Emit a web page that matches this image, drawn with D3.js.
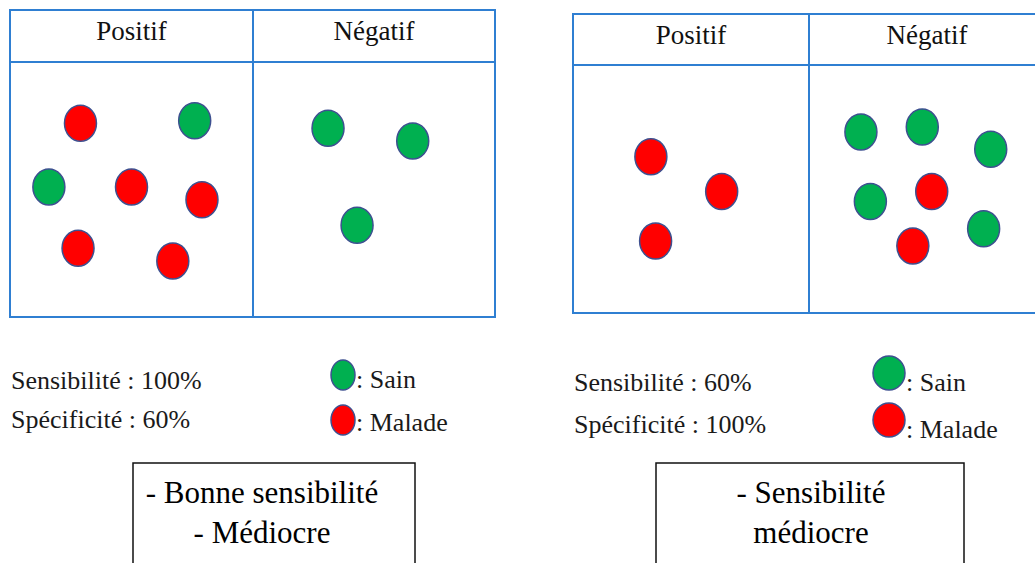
<!DOCTYPE html>
<html>

<head>
    <meta charset="UTF-8">
    <title>Sensibilité / Spécificité</title>
    <style>
        body {
            margin: 0;
            background-color: white;
        }
    </style>
</head>

<body>
    <svg></svg>

    <script src="https://d3js.org/d3.v7.min.js"></script>

    <script>

        let width = 1035, height = 563;
        let serif = "'Liberation Serif'";

        // column headers of each table
        let columns = ["Positif", "Négatif"];

        // dots of each cell: status + position inside the cell (0-100 units)
        let leftPositif = [
            ["Malade", 29, 24], ["Sain", 76, 23], ["Sain", 16, 49], ["Malade", 50, 49],
            ["Malade", 79, 54], ["Malade", 28, 73], ["Malade", 67, 78]
        ];
        let leftNegatif = [["Sain", 31, 26], ["Sain", 66, 31], ["Sain", 43, 64]];
        let rightPositif = [["Malade", 33, 37], ["Malade", 63, 51], ["Malade", 35, 71]];
        let rightNegatif = [
            ["Sain", 22, 27], ["Sain", 48, 25], ["Sain", 77, 34], ["Sain", 26, 55],
            ["Malade", 52, 51], ["Sain", 74, 66], ["Malade", 44, 73]
        ];

        // summary texts
        let leftStats = ["Sensibilité : 100%", "Spécificité : 60%"];
        let rightStats = ["Sensibilité : 60%", "Spécificité : 100%"];
        let legendLabels = ["Sain", "Malade"];
        let leftNote = ["- Bonne sensibilité", "- Médiocre"];
        let rightNote = ["- Sensibilité", "médiocre"];

        let color = d3.scaleOrdinal()
            .domain(legendLabels)
            .range(["#00b050", "#ff0000"]);

        let svg = d3.select("svg")
            .attr("width", width)
            .attr("height", height);

        let panels = [
            {
                x0: 10, xm: 253, x1: 495, y0: 10, yh: 62, y1: 317, headBase: 40,
                cells: [leftPositif, leftNegatif],
                stats: leftStats, statsX: 11, statsY: [389, 428],
                legX: 343, legY: [375, 420], legRx: 12, legRy: 15, legTextX: 356, legTextY: [388, 431],
                note: leftNote, box: [133, 415], noteX: 262
            },
            {
                x0: 573, xm: 809, x1: 1045, y0: 14, yh: 65, y1: 313, headBase: 44,
                cells: [rightPositif, rightNegatif],
                stats: rightStats, statsX: 574, statsY: [391, 433],
                legX: 889, legY: [373, 420], legRx: 16, legRy: 17, legTextX: 906, legTextY: [391, 438],
                note: rightNote, box: [656, 964], noteX: 811
            }
        ];

        panels.forEach(p => {
            let g = svg.append("g");

            // table frame
            let blue = "#2f7fd2";
            g.append("rect")
                .attr("x", p.x0).attr("y", p.y0)
                .attr("width", p.x1 - p.x0).attr("height", p.y1 - p.y0)
                .attr("fill", "none").attr("stroke", blue).attr("stroke-width", 2);
            g.append("line")
                .attr("x1", p.x0).attr("x2", p.x1).attr("y1", p.yh).attr("y2", p.yh)
                .attr("stroke", blue).attr("stroke-width", 2);
            g.append("line")
                .attr("x1", p.xm).attr("x2", p.xm).attr("y1", p.y0).attr("y2", p.y1)
                .attr("stroke", blue).attr("stroke-width", 2);

            let colX = [[p.x0, p.xm], [p.xm, p.x1]];

            columns.forEach((c, i) => {
                g.append("text")
                    .attr("x", (colX[i][0] + colX[i][1]) / 2)
                    .attr("y", p.headBase)
                    .attr("text-anchor", "middle")
                    .style("font-family", serif)
                    .style("font-size", "27px")
                    .attr("fill", "#111")
                    .text(c);

                let xs = d3.scaleLinear().domain([0, 100]).range(colX[i]);
                let ys = d3.scaleLinear().domain([0, 100]).range([p.yh, p.y1]);

                g.append("g")
                    .selectAll("ellipse")
                    .data(p.cells[i])
                    .enter()
                    .append("ellipse")
                    .attr("cx", d => xs(d[1]))
                    .attr("cy", d => ys(d[2]))
                    .attr("rx", 16)
                    .attr("ry", 18)
                    .attr("fill", d => color(d[0]))
                    .attr("stroke", "#3d5090")
                    .attr("stroke-width", 1.5);
            });

            // sensibilité / spécificité
            g.selectAll(".stat")
                .data(p.stats)
                .enter()
                .append("text")
                .attr("x", p.statsX)
                .attr("y", (d, i) => p.statsY[i])
                .style("font-family", serif)
                .style("font-size", "26px")
                .attr("fill", "#1a1a1a")
                .text(d => d);

            // legend
            g.selectAll(".leg")
                .data(legendLabels)
                .enter()
                .append("ellipse")
                .attr("cx", p.legX)
                .attr("cy", (d, i) => p.legY[i])
                .attr("rx", p.legRx)
                .attr("ry", p.legRy)
                .attr("fill", d => color(d))
                .attr("stroke", "#3d5090")
                .attr("stroke-width", 1.5);

            g.selectAll(".legtext")
                .data(legendLabels)
                .enter()
                .append("text")
                .attr("x", p.legTextX)
                .attr("y", (d, i) => p.legTextY[i])
                .style("font-family", serif)
                .style("font-size", "26px")
                .attr("fill", "#1a1a1a")
                .text(d => ": " + d);

            // conclusion box
            g.append("rect")
                .attr("x", p.box[0]).attr("y", 463)
                .attr("width", p.box[1] - p.box[0]).attr("height", 150)
                .attr("fill", "none").attr("stroke", "#111").attr("stroke-width", 1.5);

            g.selectAll(".note")
                .data(p.note)
                .enter()
                .append("text")
                .attr("x", p.noteX)
                .attr("y", (d, i) => 503 + i * 40)
                .attr("text-anchor", "middle")
                .style("font-family", serif)
                .style("font-size", "31px")
                .attr("fill", "#000")
                .text(d => d);
        });

    </script>

</body>

</html>
